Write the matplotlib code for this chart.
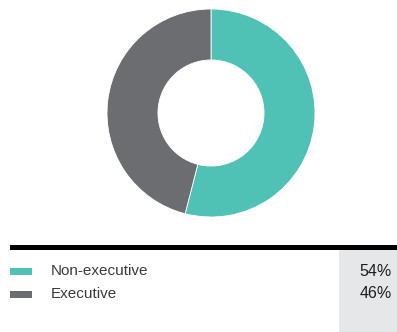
import matplotlib.pyplot as plt
from matplotlib.patches import Rectangle

# Board composition
labels = ['Non-executive', 'Executive']
shares = [54, 46]
colors = ['#50c1b5', '#6c6d71']

plt.rcParams['font.family'] = ['Liberation Sans', 'DejaVu Sans']

W, H = 397, 332
fig = plt.figure(figsize=(W / 100, H / 100), dpi=100)

# overlay in pixel units for the key table underneath the donut
bg = fig.add_axes([0, 0, 1, 1])
bg.set_xlim(0, W)
bg.set_ylim(H, 0)
bg.axis('off')

# donut
ax = fig.add_axes([107 / W, (H - 217) / H, 208 / W, 208 / H])
ax.pie(shares, colors=colors, startangle=90, counterclock=False,
       radius=1, wedgeprops=dict(width=0.49, edgecolor='white', linewidth=0.6))
ax.set_xlim(-1, 1)
ax.set_ylim(-1, 1)
ax.set_aspect('auto')

# key table
bg.add_patch(Rectangle((339, 250), W - 339, H - 250, color='#e6e7e8', lw=0))
bg.add_patch(Rectangle((10, 245), W - 10, 5, color='black', lw=0))

rows_y = [271, 294]
for y, lab, val, c in zip(rows_y, labels, shares, colors):
    bg.add_patch(Rectangle((10, y - 3), 22, 6.5, color=c, lw=0))
    bg.text(51, y, lab, fontsize=11, color='#3a3a3a', va='center', ha='left')
    bg.text(392, y, f'{val}%', fontsize=11.5, color='#1e1e1e', va='center', ha='right')

fig.savefig('out.png', dpi=100)
